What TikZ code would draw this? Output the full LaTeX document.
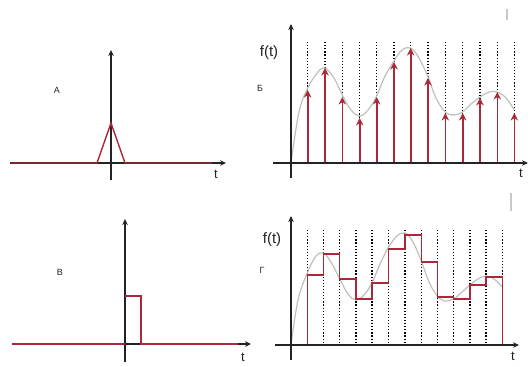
\documentclass[tikz,border=0pt]{standalone}
\usepackage{fontspec}
\setmainfont{Liberation Sans}
\usetikzlibrary{arrows.meta}
\definecolor{sig}{RGB}{170,40,55}
\definecolor{axc}{RGB}{35,35,35}
\definecolor{crv}{RGB}{185,195,185}
\definecolor{markc}{RGB}{200,200,200}
\begin{document}
\begin{tikzpicture}[x=1pt,y=-1pt,
 axis/.style={draw=axc,line width=1.3pt,-{Stealth[length=6pt,width=5.5pt]}},
 sigline/.style={draw=sig,line width=1.4pt},
 samp/.style={draw=sig,line width=1.6pt,-{Stealth[length=7.5pt,width=7.5pt]}},
 gridl/.style={draw=black,line width=1.2pt,dash pattern=on 1.2pt off 1.9pt},
 curve/.style={draw=crv,line width=1.2pt},
 faint/.style={draw=markc,line width=1.5pt},
 lbl/.style={font=\fontsize{9}{10}\selectfont,text=axc,inner sep=0pt},
 flbl/.style={font=\fontsize{15}{16}\selectfont,text=axc,inner sep=0pt},
 tlbl/.style={font=\fontsize{13}{14}\selectfont,text=axc,inner sep=0pt}]
\useasboundingbox (0,0) rectangle (528,367);

% ---------- Panel A ----------
\coordinate (al) at (10,163); \coordinate (ar) at (226,163);
\coordinate (ab) at (111,180); \coordinate (at) at (111,50);
\draw[axis] (al) -- (ar);
\draw[axis] (ab) -- (at);
\coordinate (a1) at (97,163); \coordinate (a2) at (111,123); \coordinate (a3) at (125,163); \coordinate (a4) at (212,163);
\draw[sigline] (al) -- (a1) -- (a2) -- (a3) -- (a4);
\node[lbl] (la) at (57,90) {А};
\node[tlbl] (ta) at (216,174) {t};

% ---------- Panel B (Б) ----------
\coordinate (bl) at (273,163); \coordinate (br) at (528,163);
\coordinate (bb) at (291,178); \coordinate (bt) at (291,24);
\foreach \x in {307.7,325,342.3,359.7,376.7,394,410.7,428,445.3,462.7,480,497.3,514.3}
  \draw[gridl] (\x,42) -- (\x,163);
\draw[curve] plot[smooth,tension=0.6] coordinates {(291,163) (299,112) (307.7,88) (318,72) (325,68) (334,78) (342.3,95) (351,110) (359.7,116) (368,110) (376.7,96) (385,76) (394,61) (402,50) (410.7,48) (419,58) (428,77) (436,98) (445.3,112) (454,115) (462.7,112) (471,104) (480,97) (489,92) (497.3,92) (506,98) (514.3,110)};
\foreach \x/\y in {307.7/90,325/68,342.3/97,359.7/118,376.7/97,394/62,410.7/48,428/78,445.3/113,462.7/113,480/98,497.3/92,514.3/113}
  \draw[samp] (\x,163) -- (\x,\y);
\draw[axis] (bl) -- (br);
\draw[axis] (bb) -- (bt);
\node[flbl] (fb) at (269,53) {f(t)};
\node[lbl] (lb) at (260,88) {Б};
\node[tlbl] (tb) at (521,173) {t};
\draw[faint] (507,9) -- (507,20);

% ---------- Panel C (В) ----------
\coordinate (cl) at (12,344); \coordinate (cr) at (251,344);
\coordinate (cb) at (125,362); \coordinate (ct) at (125,219);
\draw[axis] (cl) -- (cr);
\draw[axis] (cb) -- (ct);
\coordinate (c1) at (125,296); \coordinate (c2) at (141,296); \coordinate (c3) at (141,344);
\draw[sigline] (cl) -- (125,344);
\draw[sigline] (c1) -- (c2) -- (c3) -- (238,344);
\node[lbl] (lc) at (60,272) {В};
\node[tlbl] (tc) at (243,357) {t};

% ---------- Panel D (Г) ----------
\coordinate (dl) at (275,345); \coordinate (dr) at (519,345);
\coordinate (db) at (291,360); \coordinate (dt) at (291,216);
\foreach \x in {307.7,323.3,339.3,356,372,388.7,405,421.3,437.3,453.7,470,486,502.3}
  \draw[gridl] (\x,230) -- (\x,345);
\draw[curve] plot[smooth,tension=0.6] coordinates {(291,345) (298,300) (307.7,272) (316,256) (323.3,253) (331,262) (339.3,278) (348,294) (356,300) (364,295) (372,283) (380,264) (388.7,247) (397,236) (405,233) (413,242) (421.3,261) (429,282) (437.3,296) (445,301) (453.7,299) (462,292) (470,285) (478,279) (486,276) (494,279) (502.3,287)};
\draw[sigline] (291,345) -- (307.7,345) -- (307.7,275) -- (323.3,275) -- (323.3,254) -- (339.3,254) -- (339.3,279) -- (356,279) -- (356,299) -- (372,299) -- (372,283) -- (388.7,283) -- (388.7,249) -- (405,249) -- (405,235) -- (421.3,235) -- (421.3,262) -- (437.3,262) -- (437.3,297) -- (453.7,297) -- (453.7,299) -- (470,299) -- (470,285) -- (486,285) -- (486,277) -- (502.3,277) -- (502.3,345);
\draw[axis] (dl) -- (dr);
\draw[axis] (db) -- (dt);
\node[flbl] (fd) at (272,240) {f(t)};
\node[lbl] (ld) at (262,270) {Г};
\node[tlbl] (td) at (513,356) {t};
\draw[faint] (511,193) -- (511,211);
\end{tikzpicture}
\end{document}
